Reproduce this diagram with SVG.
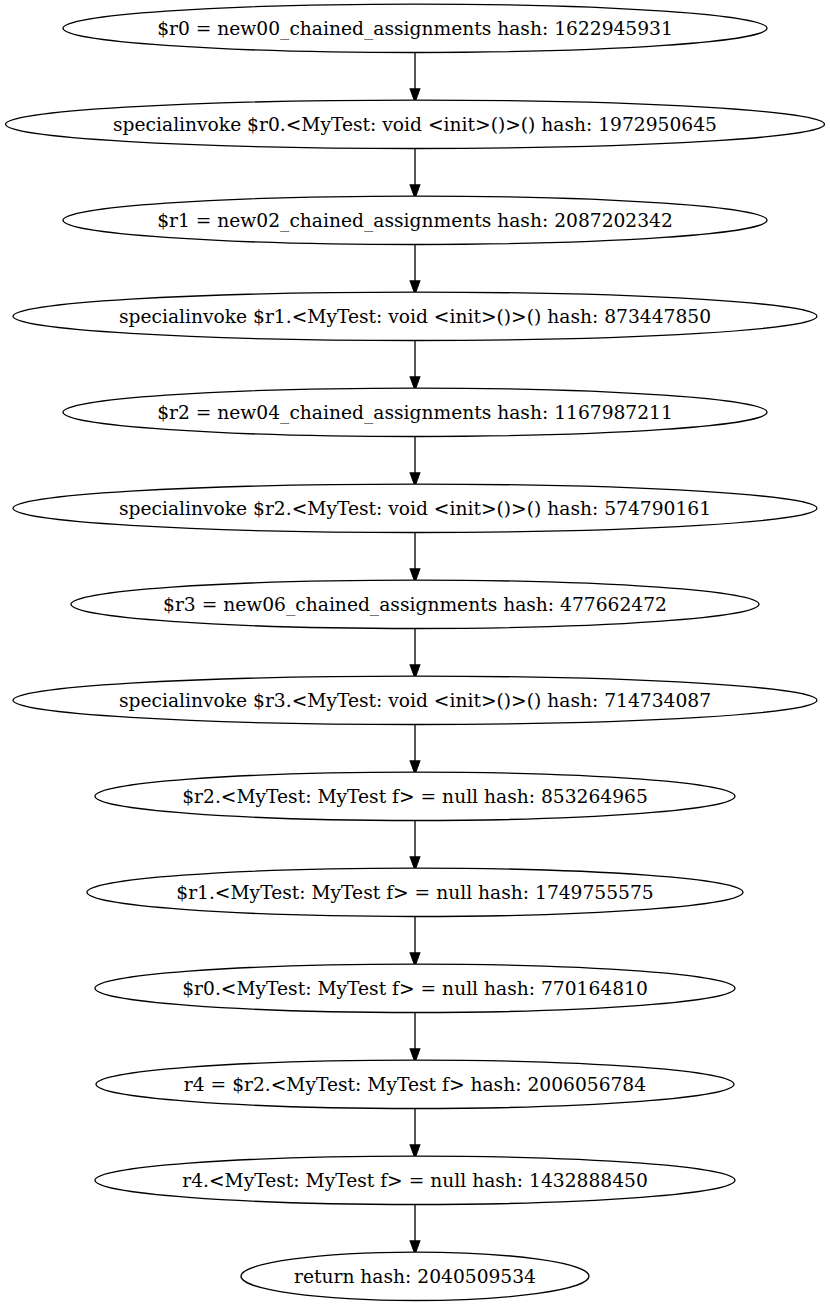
<svg xmlns="http://www.w3.org/2000/svg" width="830" height="1307" viewBox="0 0 830 1307">
<defs>
<style>
.n ellipse{fill:#fff;stroke:#000;stroke-width:1.33}
.n text{font-family:"DejaVu Serif",serif;font-size:18.67px;text-anchor:middle;fill:#000}
.e line{stroke:#000;stroke-width:1.33}
.e polygon{fill:#000;stroke:#000;stroke-width:1.33}
</style>
</defs>
<rect width="830" height="1307" fill="#fff"/>
<g class="e">
<line x1="415" y1="52.5" x2="415" y2="89"/><polygon points="410.3,89 415,102 419.7,89"/>
<line x1="415" y1="148.5" x2="415" y2="185"/><polygon points="410.3,185 415,198 419.7,185"/>
<line x1="415" y1="244.5" x2="415" y2="281"/><polygon points="410.3,281 415,294 419.7,281"/>
<line x1="415" y1="340.5" x2="415" y2="377"/><polygon points="410.3,377 415,390 419.7,377"/>
<line x1="415" y1="436.5" x2="415" y2="473"/><polygon points="410.3,473 415,486 419.7,473"/>
<line x1="415" y1="532.5" x2="415" y2="569"/><polygon points="410.3,569 415,582 419.7,569"/>
<line x1="415" y1="628.5" x2="415" y2="665"/><polygon points="410.3,665 415,678 419.7,665"/>
<line x1="415" y1="724.5" x2="415" y2="761"/><polygon points="410.3,761 415,774 419.7,761"/>
<line x1="415" y1="820.5" x2="415" y2="857"/><polygon points="410.3,857 415,870 419.7,857"/>
<line x1="415" y1="916.5" x2="415" y2="953"/><polygon points="410.3,953 415,966 419.7,953"/>
<line x1="415" y1="1012.5" x2="415" y2="1049"/><polygon points="410.3,1049 415,1062 419.7,1049"/>
<line x1="415" y1="1108.5" x2="415" y2="1145"/><polygon points="410.3,1145 415,1158 419.7,1145"/>
<line x1="415" y1="1204.5" x2="415" y2="1241"/><polygon points="410.3,1241 415,1254 419.7,1241"/>
</g>
<g id="n0" class="n"><ellipse cx="415" cy="28.3" rx="352" ry="24.2"/><text x="415" y="34.8">$r0 = new00_chained_assignments hash: 1622945931</text></g>
<g id="n1" class="n"><ellipse cx="415" cy="124.3" rx="409.5" ry="24.2"/><text x="415" y="130.8">specialinvoke $r0.&lt;MyTest: void &lt;init&gt;()&gt;() hash: 1972950645</text></g>
<g id="n2" class="n"><ellipse cx="415" cy="220.3" rx="352" ry="24.2"/><text x="415" y="226.8">$r1 = new02_chained_assignments hash: 2087202342</text></g>
<g id="n3" class="n"><ellipse cx="415" cy="316.3" rx="402" ry="24.2"/><text x="415" y="322.8">specialinvoke $r1.&lt;MyTest: void &lt;init&gt;()&gt;() hash: 873447850</text></g>
<g id="n4" class="n"><ellipse cx="415" cy="412.3" rx="352" ry="24.2"/><text x="415" y="418.8">$r2 = new04_chained_assignments hash: 1167987211</text></g>
<g id="n5" class="n"><ellipse cx="415" cy="508.3" rx="402" ry="24.2"/><text x="415" y="514.8">specialinvoke $r2.&lt;MyTest: void &lt;init&gt;()&gt;() hash: 574790161</text></g>
<g id="n6" class="n"><ellipse cx="415" cy="604.3" rx="344" ry="24.2"/><text x="415" y="610.8">$r3 = new06_chained_assignments hash: 477662472</text></g>
<g id="n7" class="n"><ellipse cx="415" cy="700.3" rx="402" ry="24.2"/><text x="415" y="706.8">specialinvoke $r3.&lt;MyTest: void &lt;init&gt;()&gt;() hash: 714734087</text></g>
<g id="n8" class="n"><ellipse cx="415" cy="796.3" rx="320" ry="24.2"/><text x="415" y="802.8">$r2.&lt;MyTest: MyTest f&gt; = null hash: 853264965</text></g>
<g id="n9" class="n"><ellipse cx="415" cy="892.3" rx="328" ry="24.2"/><text x="415" y="898.8">$r1.&lt;MyTest: MyTest f&gt; = null hash: 1749755575</text></g>
<g id="n10" class="n"><ellipse cx="415" cy="988.3" rx="320" ry="24.2"/><text x="415" y="994.8">$r0.&lt;MyTest: MyTest f&gt; = null hash: 770164810</text></g>
<g id="n11" class="n"><ellipse cx="415" cy="1084.3" rx="319" ry="24.2"/><text x="415" y="1090.8">r4 = $r2.&lt;MyTest: MyTest f&gt; hash: 2006056784</text></g>
<g id="n12" class="n"><ellipse cx="415" cy="1180.3" rx="320" ry="24.2"/><text x="415" y="1186.8">r4.&lt;MyTest: MyTest f&gt; = null hash: 1432888450</text></g>
<g id="n13" class="n"><ellipse cx="415" cy="1276.3" rx="174" ry="24.2"/><text x="415" y="1282.8">return hash: 2040509534</text></g>
</svg>
